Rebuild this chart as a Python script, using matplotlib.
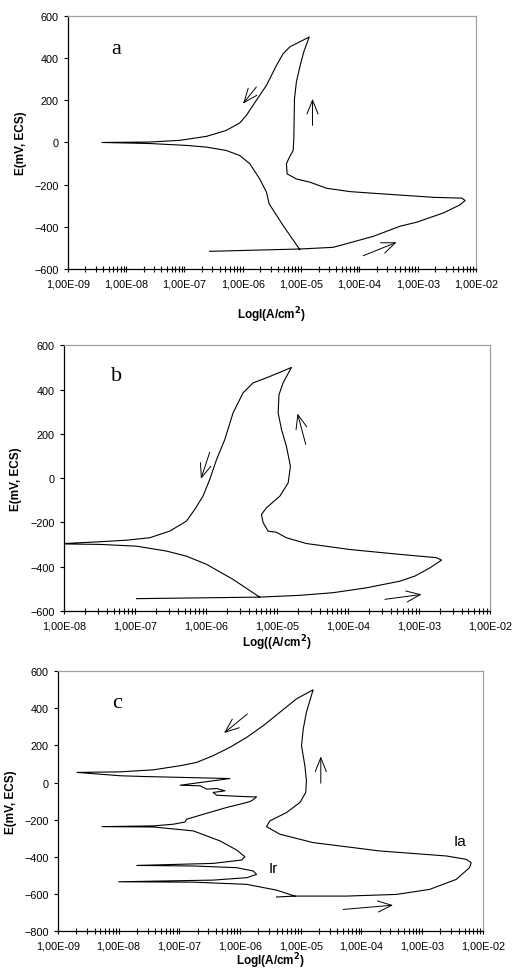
import matplotlib.pyplot as plt
import matplotlib.ticker as mticker
import numpy as np

plt.rcParams['font.family'] = ['Liberation Sans', 'DejaVu Sans']

# ---- panel a ----
a_i = [2.7e-7, 9.5e-6, 3.56e-5, 1.73e-4, 4.97e-4, 9.6e-4, 2.75e-3, 5.3e-3, 6.5e-3,
       5.7e-3, 1.85e-3, 2.56e-4, 6.9e-5, 2.73e-5, 1.41e-5, 8.3e-6, 5.77e-6, 5.6e-6,
       6.2e-6, 7.3e-6, 7.5e-6, 7.7e-6, 8.3e-6, 9.5e-6, 1.11e-5, 1.38e-5,
       9.5e-6, 6.4e-6, 4.92e-6, 3.79e-6, 2.55e-6, 1.71e-6, 1.15e-6, 8.9e-7, 5.2e-7,
       2.38e-7, 8.3e-8, 2.52e-8, 3.84e-9,
       2.52e-8, 1.08e-7, 2.38e-7, 5.2e-7, 8.9e-7, 1.32e-6, 1.95e-6, 2.38e-6, 2.55e-6,
       2.83e-6, 4.92e-6, 9.5e-6]
a_e = [-516, -505, -497, -445, -397, -378, -334, -296, -275,
       -264, -260, -244, -233, -217, -188, -173, -149, -101,
       -74, -38, 17, 207, 287, 358, 429, 500,
       477, 453, 421, 366, 271, 200, 128, 93, 57,
       29, 10, 2, 0,
       -5, -14, -22, -38, -62, -101, -173, -220, -236,
       -291, -394, -508]
a_arrows = [((1.71e-6, 263), (1.01e-6, 184)),
            ((1.57e-5, 81), (1.57e-5, 207)),
            ((1.16e-4, -537), (4.35e-4, -473))]

# ---- panel b ----
b_i = [1.05e-7, 5.7e-6, 2.1e-5, 6.2e-5, 1.83e-4, 5.4e-4, 8.8e-4, 1.43e-3, 2.09e-3,
       1.77e-3, 5.4e-4, 1.06e-4, 2.6e-5, 1.36e-5, 9.8e-6, 7.5e-6, 6.4e-6, 6.05e-6,
       7.1e-6, 1.1e-5, 1.44e-5, 1.55e-5, 1.36e-5, 1.16e-5, 1.04e-5, 1.07e-5, 1.22e-5,
       1.6e-5,
       1.1e-5, 7.1e-6, 4.6e-6, 3.33e-6, 2.41e-6, 1.84e-6, 1.41e-6, 1.13e-6, 9.1e-7,
       6.95e-7, 5.3e-7, 3.09e-7, 1.61e-7, 7.6e-8, 3.2e-8, 1.0e-8, 8.0e-9,
       1.0e-8, 3.2e-8, 1.05e-7, 2.77e-7, 5.3e-7, 1.02e-6, 2.41e-6, 5.7e-6]
b_e = [-544, -537, -529, -517, -495, -465, -442, -405, -370,
       -359, -344, -322, -295, -269, -244, -239, -201, -164,
       -134, -81, -21, 54, 144, 220, 295, 377, 430,
       500,
       478, 453, 430, 385, 295, 174, 84, -6, -81,
       -141, -194, -239, -269, -280, -287, -295, -296,
       -297, -299, -307, -329, -352, -389, -457, -537]
b_arrows = [((1.13e-6, 117), (8.5e-7, -3)),
            ((2.55e-5, 152), (1.95e-5, 292)),
            ((3.32e-4, -547), (1.09e-3, -525))]

# ---- panel c ----
c_i = [4.0e-6, 8.0e-6, 5.7e-5, 3.8e-4, 1.33e-3, 3.66e-3, 6.05e-3, 6.44e-3,
       5.33e-3, 2.5e-3, 2.0e-4, 1.6e-5, 4.54e-6, 2.73e-6, 3.1e-6, 5.83e-6, 9.7e-6,
       1.21e-5, 1.24e-5, 1.17e-5, 1.03e-5, 1.1e-5, 1.24e-5, 1.6e-5,
       8.5e-6, 4.54e-6, 2.42e-6, 1.29e-6, 6.8e-7, 3.6e-7, 1.93e-7, 1.03e-7, 3.74e-8,
       1.06e-8, 2.05e-9,
       1.06e-8, 2.56e-8, 6.8e-7,
       1.03e-7, 2.19e-7, 2.83e-7, 4.12e-7, 5.65e-7, 3.6e-7, 4.12e-7, 1.13e-6, 1.87e-6,
       1.55e-6, 1.29e-6, 6.0e-7, 2.83e-7, 1.32e-7, 1.24e-7, 7.98e-8, 3.74e-8, 5.3e-9,
       3.74e-8, 1.7e-7, 4.68e-7, 8.8e-7, 1.2e-6, 1.06e-6, 3.6e-7, 1.99e-8,
       1.7e-7, 8.8e-7, 1.65e-6, 1.87e-6, 1.29e-6, 3.6e-7, 1.0e-8,
       1.7e-7, 1.29e-6, 4.0e-6, 8.0e-6]
c_e = [-616, -611, -611, -602, -575, -521, -458, -431,
       -413, -395, -368, -323, -278, -237, -206, -161, -107,
       -53, 10, 91, 199, 289, 379, 500,
       451, 379, 307, 244, 190, 145, 109, 91, 69,
       58, 55,
       37, 33, 22,
       -14, -17, -35, -32, -44, -53, -68, -75, -77,
       -98, -107, -134, -165, -197, -212, -224, -233, -237,
       -239, -260, -314, -363, -399, -417, -435, -446,
       -449, -458, -476, -494, -512, -525, -534,
       -536, -548, -579, -611]
c_arrows = [((1.32e-6, 370), (5.45e-7, 267)),
            ((2.14e-5, -3), (2.14e-5, 141)),
            ((5.0e-5, -683), (3.32e-4, -660))]

panels = [
    dict(i=a_i, e=a_e, arrows=a_arrows, xlim=(1e-9, 1e-2), ylim=(-600, 600),
         yt=np.arange(-600, 601, 200), letter='a', lpos=(5.5e-9, 445),
         xlabel='LogI(A/cm$^\\mathbf{2}$)', rect=[0.131, 0.7216, 0.788, 0.261],
         xlab_y=-0.138, ylab_x=-0.100, notes=[]),
    dict(i=b_i, e=b_e, arrows=b_arrows, xlim=(1e-8, 1e-2), ylim=(-600, 600),
         yt=np.arange(-600, 601, 200), letter='b', lpos=(4.6e-8, 463),
         xlabel='Log((A/cm$^\\mathbf{2}$)', rect=[0.1236, 0.369, 0.822, 0.274],
         xlab_y=-0.080, ylab_x=-0.099, notes=[]),
    dict(i=c_i, e=c_e, arrows=c_arrows, xlim=(1e-9, 1e-2), ylim=(-800, 600),
         yt=np.arange(-800, 601, 200), letter='c', lpos=(7.8e-9, 433),
         xlabel='LogI(A/cm$^\\mathbf{2}$)', rect=[0.112, 0.039, 0.820, 0.268],
         xlab_y=-0.074, ylab_x=-0.096,
         notes=[('Ia', (4.2e-3, -314)), ('Ir', (3.6e-6, -458))]),
]

fig = plt.figure(figsize=(5.18, 9.70), dpi=100)

for p in panels:
    ax = fig.add_axes(p['rect'])
    ax.plot(p['i'], p['e'], color='black', lw=0.8)
    ax.set_xscale('log')
    ax.set_xlim(*p['xlim'])
    ax.set_ylim(*p['ylim'])

    lo, hi = [int(round(np.log10(v))) for v in p['xlim']]
    decades = [10.0 ** k for k in range(lo, hi + 1)]
    ax.xaxis.set_major_locator(mticker.FixedLocator(decades))
    ax.set_xticklabels(['1,00E-%02d' % (-k) for k in range(lo, hi + 1)])
    ax.xaxis.set_minor_locator(mticker.LogLocator(base=10, subs=np.arange(2, 10), numticks=20))
    ax.xaxis.set_minor_formatter(mticker.NullFormatter())
    ax.set_yticks(p['yt'])

    ax.tick_params(axis='x', which='both', direction='inout', length=4, width=0.8,
                   labelsize=7.8, pad=5)
    ax.tick_params(axis='y', direction='out', length=3, width=0.8, labelsize=7.8)
    for s in ['left', 'bottom']:
        ax.spines[s].set_color('black')
        ax.spines[s].set_linewidth(0.9)
    for s in ['top', 'right']:
        ax.spines[s].set_color('#a0a0a0')
        ax.spines[s].set_linewidth(0.9)

    ax.set_xlabel(p['xlabel'], fontsize=8.5, fontweight='bold')
    ax.xaxis.set_label_coords(0.5, p['xlab_y'])
    ax.set_ylabel('E(mV, ECS)', fontsize=8.5, fontweight='bold')
    ax.yaxis.set_label_coords(p['ylab_x'], 0.5)

    for (x0, y0), (x1, y1) in p['arrows']:
        ax.annotate('', xy=(x1, y1), xytext=(x0, y0),
                    arrowprops=dict(arrowstyle='->,head_length=1.0,head_width=0.4',
                                    color='black', lw=0.7, shrinkA=0, shrinkB=0))

    ax.text(p['lpos'][0], p['lpos'][1], p['letter'], family='Liberation Serif',
            fontsize=16, ha='left', va='center')
    for txt, (x, y) in p['notes']:
        ax.text(x, y, txt, fontsize=11, ha='center', va='center')

fig.savefig('out.png', dpi=100)
